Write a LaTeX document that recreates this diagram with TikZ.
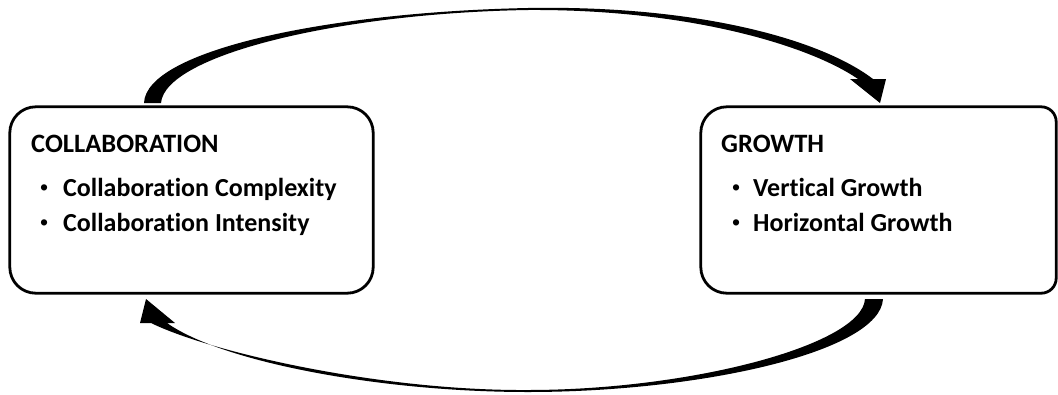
\documentclass[tikz,border=0pt]{standalone}
\usepackage{fontspec}
\setmainfont{Carlito}[Ligatures=NoCommon]
\newfontfamily\bulfont{Liberation Sans}
\begin{document}
\begin{tikzpicture}[x=1pt,y=-1pt,
  boxline/.style={line width=2.8pt, line join=round},
  boxarea/.style={rectangle, inner sep=0pt, draw=none},
  head/.style={anchor=base west, inner sep=0pt, font=\fontsize{26.5}{30}\selectfont\bfseries},
  item/.style={anchor=base west, inner sep=0pt, font=\fontsize{26}{30}\selectfont\bfseries},
  bul/.style={anchor=base west, inner sep=0pt, font=\bulfont\fontsize{23}{26}\selectfont},
  band/.style={fill=black, draw=none}]
\useasboundingbox (0,0) rectangle (1058,394);

% boxes
\node[boxarea, minimum width=363pt, minimum height=186pt] (collab) at (191.5,200) {};
\node[boxarea, minimum width=355pt, minimum height=186pt] (growth) at (878.5,200) {};
\draw[boxline, rounded corners=26pt] (collab.north west) rectangle (collab.south east);
\draw[boxline] (growth.north) [rounded corners=15pt] -| (growth.east) |- (growth.south)
  [rounded corners=26pt] -| (growth.west) |- (growth.north);

% texts
\node[head] (t1) at (31,152) {COLLABORATION};
\node[bul] (b1) at (40,195) {•};
\node[item] (t2) at (63,196) {Collaboration Complexity};
\node[bul] (b2) at (40,230) {•};
\node[item] (t3) at (63,231) {Collaboration Intensity};

\node[head] (g1) at (721,152) {GROWTH};
\node[bul] (g2b) at (732,195) {•};
\node[item] (g2) at (753,196) {Vertical Growth};
\node[bul] (g3b) at (732,230) {•};
\node[item] (g3) at (753,231) {Horizontal Growth};

% top curved arrow (collaboration -> growth)
\coordinate (ts1) at (144,103);
\coordinate (ts2) at (161,103);
\coordinate (tmo) at (528,8);
\coordinate (tmi) at (528,10);
\coordinate (tho) at (873,79);
\coordinate (thr) at (886,79);
\coordinate (tht) at (880,103);
\coordinate (thl) at (850,79);
\coordinate (thi) at (858,79);
\fill[band] (ts1) .. controls (146,50) and (330,12) .. (tmo)
  .. controls (700,5) and (822,40) .. (tho) -- (thr) -- (tht) -- (thl) -- (thi)
  .. controls (810,46) and (690,9) .. (tmi)
  .. controls (340,13) and (165,55) .. (ts2) -- cycle;

% bottom curved arrow (growth -> collaboration)
\coordinate (bs1) at (883,299);
\coordinate (bs2) at (865,299);
\coordinate (bmo) at (528,392);
\coordinate (bmi) at (528,390);
\coordinate (bho) at (167,323);
\coordinate (bhr) at (175,323);
\coordinate (bht) at (146,299);
\coordinate (bhl) at (140,323);
\coordinate (bhi) at (151,323);
\fill[band] (bs1) .. controls (880,352) and (700,392) .. (bmo)
  .. controls (380,392) and (222,362) .. (bho) -- (bhr) -- (bht) -- (bhl) -- (bhi)
  .. controls (210,352) and (380,391) .. (bmi)
  .. controls (690,390) and (862,345) .. (bs2) -- cycle;
\end{tikzpicture}
\end{document}
